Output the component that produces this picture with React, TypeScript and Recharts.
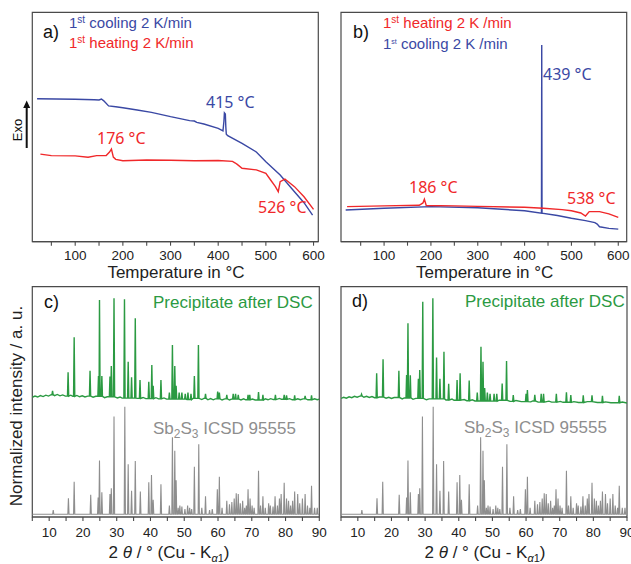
import React from 'react';
import { LineChart, Line, XAxis, YAxis, ReferenceArea } from 'recharts';

const BLUE = '#3a48a4';
const RED = '#f0282a';
const GREEN = '#2b9a42';
const GRAY = '#8e8e8e';
const FRAME = '#4a4a4a';
const SANS = '"Liberation Sans", Arial, sans-serif';
const NOTE = '"Noto Sans", "Open Sans", sans-serif';

// ---------- DSC (panels a, b): [temperature °C, signal a.u.] ----------
const aCooling: [number, number][] = [
  [20, 62.3], [60, 62.2], [100, 62.1], [140, 61.9], [150, 61.8], [155, 62.2], [160, 61.4], [170, 59.2],
  [185, 58.8], [200, 58.4], [230, 57.4], [260, 56.4], [300, 54.5], [340, 52.8], [350, 52.6], [355, 52.0],
  [370, 51.3], [400, 49.4], [410, 48.3], [412, 52.5], [413, 56.2], [415, 55.7], [416, 50.0], [417, 46.9],
  [420, 46.2], [450, 42.9], [480, 39.1], [500, 34.9], [530, 29.1], [560, 21.8], [580, 17.0], [598, 11.6],
];
const aHeating: [number, number][] = [
  [27, 38.2], [50, 37.5], [100, 37.4], [127, 36.8], [145, 37.5], [165, 37.6], [172, 39.1], [176, 40.4],
  [180, 36.9], [185, 35.9], [200, 35.3], [250, 35.6], [300, 35.5], [350, 35.3], [400, 35.4], [430, 35.0],
  [435, 34.4], [440, 33.7], [450, 32.0], [480, 31.3], [500, 29.8], [510, 26.9], [520, 24.0], [526, 21.8],
  [530, 26.2], [540, 27.3], [560, 24.0], [580, 19.6], [600, 14.1],
];
const bHeating: [number, number][] = [
  [21, 15.3], [100, 15.6], [175, 15.9], [183, 16.9], [186, 18.5], [190, 15.8], [250, 15.6], [300, 15.4],
  [400, 15.0], [440, 14.6], [480, 14.0], [500, 13.5], [520, 12.5], [530, 11.2], [538, 13.1], [560, 13.1],
  [580, 12.1], [600, 10.6],
];
const bCooling: [number, number][] = [
  [18, 13.8], [100, 14.6], [200, 15.3], [300, 14.8], [400, 13.5], [436, 12.4], [436.6, 85.7], [437.2, 12.4],
  [470, 11.4], [500, 10.2], [530, 9.2], [550, 8.3], [555, 7.7], [560, 6.5], [580, 5.8], [600, 5.5],
];

// ---------- XRD (panels c, d): [2θ, intensity a.u.] ----------
const refPeaks: [number, number][] = [
  [11.2, 3.0], [15.7, 8.1], [17.4, 15.3], [22.3, 9.6], [24.5, 8.5], [24.9, 24.5], [25.6, 10.7], [28.0, 10.0],
  [28.4, 12.5], [29.2, 43.6], [32.4, 47.9], [33.4, 22.9], [34.4, 11.4], [35.5, 24.3], [37.0, 11.1],
  [39.5, 15.1], [40.3, 18.2], [40.8, 7.5], [43.1, 14.2], [45.6, 5.0], [46.5, 34.6], [47.2, 28.8],
  [47.6, 16.0], [48.2, 4.0], [48.7, 5.0], [49.3, 4.5], [50.2, 3.5], [51.0, 5.0], [51.6, 4.0], [52.2, 3.5],
  [53.0, 21.8], [54.3, 31.6], [55.2, 4.0], [56.3, 9.0], [57.5, 3.0], [58.3, 3.5], [59.8, 12.0], [60.4, 17.5],
  [61.2, 4.0], [62.6, 7.0], [63.4, 5.5], [64.1, 6.5], [64.8, 8.0], [65.4, 10.3], [66.0, 10.0], [66.6, 6.0],
  [67.3, 7.0], [67.9, 4.0], [68.4, 5.0], [68.9, 12.0], [69.5, 8.0], [70.1, 5.0], [70.7, 4.0], [72.0, 20.1],
  [72.6, 5.0], [73.3, 9.0], [74.0, 4.0], [75.0, 6.0], [75.5, 5.0], [76.3, 4.5], [76.9, 9.0], [77.6, 5.0],
  [78.2, 8.0], [78.7, 10.0], [79.6, 14.9], [80.3, 8.0], [80.9, 7.0], [81.5, 5.0], [82.1, 7.0], [82.7, 11.1],
  [83.6, 10.0], [84.2, 6.0], [85.0, 8.0], [85.8, 10.0], [86.5, 5.0], [87.2, 4.0], [87.7, 13.6], [88.6, 4.0],
  [89.4, 4.0],
];
const refBaseline: [number, number][] = [[5, 1.2], [90, 1.2]];

const cPeaks: [number, number][] = [
  [11.0, 54.8], [15.6, 62.8], [17.4, 78.0], [22.1, 63.5], [24.6, 61.2], [24.9, 94.2], [25.6, 61.2],
  [28.0, 61.0], [28.4, 65.6], [29.2, 95.0], [32.3, 94.5], [33.4, 67.4], [34.4, 60.7], [35.5, 86.3],
  [36.9, 59.5], [39.5, 58.7], [40.4, 66.0], [40.8, 57.0], [43.1, 59.5], [45.6, 54.0], [46.5, 74.7],
  [47.2, 65.6], [47.6, 57.0], [48.5, 54.0], [49.3, 54.0], [50.3, 53.5], [51.1, 54.0], [52.0, 53.5],
  [53.0, 61.2], [54.2, 74.7], [56.3, 53.5], [59.9, 54.5], [60.4, 54.0], [62.6, 53.0], [64.5, 53.5],
  [65.2, 53.5], [66.0, 53.0], [68.9, 53.0], [69.4, 53.0], [72.0, 54.2], [73.3, 53.0], [77.0, 53.0],
  [79.6, 53.0], [80.3, 52.8], [82.7, 52.8], [85.8, 52.6], [87.7, 52.8],
];
const cBaseline: [number, number][] = [
  [5, 52.0], [5.8, 52.5], [6.6, 52.1], [7.4, 52.7], [8.2, 52.3], [9.0, 52.9], [9.8, 52.5], [10.6, 53.1],
  [11.6, 52.7], [12.4, 53.2], [13.2, 52.6], [14.0, 53.0], [14.8, 52.5], [16.4, 52.9], [17.0, 52.4],
  [18.2, 52.8], [19.0, 52.2], [19.8, 52.6], [20.6, 52.1], [21.4, 52.5], [23.0, 52.0], [23.8, 52.4],
  [26.4, 51.8], [27.2, 52.2], [30.2, 51.7], [31.0, 52.1], [31.6, 51.6], [36.2, 51.5], [37.8, 51.9],
  [38.6, 51.4], [41.6, 51.8], [42.4, 51.3], [44.0, 51.7], [44.8, 51.2], [50.8, 51.0], [52.6, 51.5],
  [55.2, 51.0], [55.8, 51.5], [57.0, 50.9], [57.8, 51.4], [58.6, 50.9], [59.2, 51.3], [61.2, 50.8],
  [62.0, 51.3], [63.4, 50.8], [64.0, 51.2], [66.8, 50.8], [67.6, 51.3], [68.2, 50.9], [70.2, 51.2],
  [71.0, 50.8], [74.0, 51.3], [74.8, 50.9], [75.6, 51.4], [76.4, 51.0], [78.2, 51.5], [78.8, 51.1],
  [81.2, 51.4], [82.0, 50.9], [83.6, 51.3], [84.4, 50.9], [85.2, 51.3], [86.6, 50.9], [88.6, 51.3],
  [89.4, 50.9], [90, 51.2],
];

const dPeaks: [number, number][] = [
  [11.1, 53.3], [15.6, 62.4], [17.5, 68.5], [22.2, 63.5], [24.5, 61.7], [24.9, 84.1], [25.6, 61.5],
  [28.0, 60.0], [28.4, 63.8], [29.3, 93.5], [32.3, 95.0], [33.4, 69.3], [34.4, 60.0], [35.6, 71.8],
  [37.0, 57.8], [39.5, 59.5], [40.4, 62.4], [43.1, 59.3], [45.5, 54.0], [46.6, 73.9], [47.2, 67.4],
  [47.7, 56.0], [48.5, 54.0], [49.3, 53.5], [50.5, 53.5], [51.3, 53.5], [52.9, 58.0], [54.2, 67.7],
  [56.2, 53.0], [60.0, 53.5], [60.4, 55.1], [62.6, 53.0], [64.5, 53.5], [65.2, 53.5], [69.0, 53.5],
  [72.0, 54.2], [73.3, 53.0], [77.0, 52.8], [79.6, 52.8], [82.7, 52.6], [87.7, 52.6],
];
const dBaseline: [number, number][] = [
  [5, 51.5], [5.8, 52.0], [6.6, 51.6], [7.4, 52.2], [8.2, 51.8], [9.0, 52.4], [9.8, 52.0], [10.6, 52.5],
  [11.8, 52.0], [12.6, 52.4], [13.4, 51.9], [14.2, 52.3], [15.0, 51.8], [16.4, 52.1], [18.4, 51.6],
  [19.2, 52.0], [20.0, 51.5], [20.8, 51.9], [23.2, 51.3], [23.8, 51.7], [26.4, 51.1], [27.2, 51.5],
  [30.4, 50.9], [31.2, 51.3], [36.2, 50.8], [38.0, 51.2], [38.6, 50.7], [41.6, 51.0], [42.4, 50.5],
  [44.0, 50.9], [44.8, 50.4], [50.0, 50.3], [52.0, 50.7], [55.2, 50.2], [57.0, 50.6], [58.6, 50.1],
  [61.4, 50.0], [62.0, 50.4], [63.6, 49.9], [66.8, 50.3], [67.6, 49.9], [70.2, 50.2], [71.0, 49.8],
  [74.2, 50.1], [75.6, 49.7], [78.2, 50.1], [81.2, 49.7], [83.6, 50.0], [85.2, 49.6], [88.6, 49.9],
  [90, 49.5],
];

const DSC_TICKS = [50, 100, 150, 200, 250, 300, 350, 400, 450, 500, 550, 600];
const XRD_TICKS = [5, 10, 15, 20, 25, 30, 35, 40, 45, 50, 55, 60, 65, 70, 75, 80, 85, 90];

type Pt = { x: number; y: number };
const toPts = (arr: [number, number][]): Pt[] => arr.map(([x, y]) => ({ x, y }));

// pattern = baseline points + narrow peaks whose feet sit on the baseline point at or before them
function pattern(base: [number, number][], peaks: [number, number][], hw: number): Pt[] {
  const pts: Pt[] = base.map(([x, y]) => ({ x, y }));
  const baseAt = (x: number) => {
    let v = base[0][1];
    for (const [bx, by] of base) if (bx <= x) v = by;
    return v;
  };
  for (const [x, h] of peaks) {
    const b = baseAt(x);
    pts.push({ x: x - hw, y: b }, { x, y: h }, { x: x + hw, y: b });
  }
  pts.sort((p, q) => p.x - q.x);
  return pts;
}

const makeTick = (every: number) => (props: any) => {
  const { x, y, payload } = props;
  const v = payload.value;
  const show = Math.abs(v % every) < 1e-6;
  return (
    <text x={x} y={y} dy="0.71em" textAnchor="middle" fontFamily={SANS} fontSize={13.5} fill="#222">
      {show ? String(v) : ''}
    </text>
  );
};

type Series = { data: Pt[]; color: string; width: number };

function Panel(p: {
  left: number; top: number; width: number; height: number;
  margin: { top: number; right: number; bottom: number; left: number };
  domain: [number, number]; ticks: number[]; every: number; axisHeight: number; tickMargin: number;
  series: Series[];
}) {
  return (
    <div style={{ position: 'absolute', left: p.left, top: p.top }}>
      <LineChart width={p.width} height={p.height} margin={p.margin}>
        <XAxis xAxisId="b" type="number" dataKey="x" domain={p.domain} ticks={p.ticks} interval={0}
          allowDataOverflow height={p.axisHeight} tickSize={4} tickMargin={p.tickMargin}
          axisLine={{ stroke: FRAME, strokeWidth: 1.2 }} tickLine={{ stroke: FRAME, strokeWidth: 1.1 }}
          tick={makeTick(p.every)} />
        <YAxis yAxisId="l" type="number" domain={[0, 100]} allowDataOverflow hide />
        <ReferenceArea xAxisId="b" yAxisId="l" x1={p.domain[0]} x2={p.domain[1]} y1={0} y2={100}
          fill="none" fillOpacity={0} stroke={FRAME} strokeWidth={1.2} strokeOpacity={1} ifOverflow="visible" />
        {p.series.map((s, i) => (
          <Line key={i} xAxisId="b" yAxisId="l" data={s.data} dataKey="y" type="linear" stroke={s.color}
            strokeWidth={s.width} dot={false} activeDot={false} isAnimationActive={false} />
        ))}
      </LineChart>
    </div>
  );
}

const Sup = ({ t, size = 10 }: { t: string; size?: number }) => (
  <tspan dy={-5} fontSize={size}>{t}</tspan>
);

export default function App() {
  const gray = pattern(refBaseline, refPeaks, 0.18);
  const greenC = pattern(cBaseline, cPeaks, 0.18);
  const greenD = pattern(dBaseline, dPeaks, 0.18);

  const xrdLabel = (cx: number) => (
    <text x={cx} y={558} textAnchor="middle" fontFamily={SANS} fontSize={17} fill="#222">
      <tspan>2 </tspan>
      <tspan fontStyle="italic">θ</tspan>
      <tspan> / ° (Cu - K</tspan>
      <tspan dy={4} fontSize={11} fontStyle="italic">α</tspan>
      <tspan fontSize={11}>1</tspan>
      <tspan dy={-4}>)</tspan>
    </text>
  );

  return (
    <div style={{ position: 'absolute', left: 0, top: 0, width: 631, height: 564, background: '#fff' }}>
      <Panel left={0} top={0} width={330} height={284}
        margin={{ top: 12.3, right: 11.7, bottom: 0, left: 32.3 }}
        domain={[10, 610]} ticks={DSC_TICKS} every={100} axisHeight={42.3} tickMargin={5}
        series={[
          { data: toPts(aCooling), color: BLUE, width: 1.4 },
          { data: toPts(aHeating), color: RED, width: 1.4 },
        ]} />
      <Panel left={330} top={0} width={301} height={284}
        margin={{ top: 12.3, right: 4.3, bottom: 0, left: 11 }}
        domain={[8, 618]} ticks={DSC_TICKS} every={100} axisHeight={42.3} tickMargin={5}
        series={[
          { data: toPts(bCooling), color: BLUE, width: 1.4 },
          { data: toPts(bHeating), color: RED, width: 1.4 },
        ]} />
      <Panel left={0} top={280} width={330} height={284}
        margin={{ top: 6.7, right: 10.7, bottom: 0, left: 32.3 }}
        domain={[5, 90]} ticks={XRD_TICKS} every={10} axisHeight={47} tickMargin={6.4}
        series={[
          { data: gray, color: GRAY, width: 1.1 },
          { data: greenC, color: GREEN, width: 1.4 },
        ]} />
      <Panel left={330} top={280} width={301} height={284}
        margin={{ top: 6.7, right: 4, bottom: 0, left: 11 }}
        domain={[5, 90]} ticks={XRD_TICKS} every={10} axisHeight={47} tickMargin={6.4}
        series={[
          { data: gray, color: GRAY, width: 1.1 },
          { data: greenD, color: GREEN, width: 1.4 },
        ]} />

      <svg width={631} height={564} style={{ position: 'absolute', left: 0, top: 0, pointerEvents: 'none' }}>
        {/* panel a */}
        <text x={43} y={38} fontFamily={SANS} fontSize={18} fill="#111">a)</text>
        <text x={69} y={28} fontFamily={SANS} fontSize={15} fill={BLUE}>
          <tspan>1</tspan><Sup t="st" /><tspan dy={5}> cooling 2 K/min</tspan>
        </text>
        <text x={69} y={48} fontFamily={SANS} fontSize={15} fill={RED}>
          <tspan>1</tspan><Sup t="st" /><tspan dy={5}> heating 2 K/min</tspan>
        </text>
        <text x={206} y={108} fontFamily={NOTE} fontSize={16} fill={BLUE}>415 °C</text>
        <text x={97} y={144} fontFamily={NOTE} fontSize={16} fill={RED}>176 °C</text>
        <text x={258} y={213} fontFamily={NOTE} fontSize={16} fill={RED}>526 °C</text>
        <line x1={26.7} y1={148} x2={26.7} y2={106} stroke="#111" strokeWidth={2} />
        <polygon points="26.7,100.5 23.2,108 30.2,108" fill="#111" />
        <text x={21.5} y={130} transform="rotate(-90 21.5 130)" textAnchor="middle" fontFamily={SANS} fontSize={13} fill="#111">Exo</text>
        <text x={176} y={277.7} textAnchor="middle" fontFamily={SANS} fontSize={17} fill="#222">Temperature in °C</text>

        {/* panel b */}
        <text x={353} y={38} fontFamily={SANS} fontSize={18} fill="#111">b)</text>
        <text x={383} y={28} fontFamily={SANS} fontSize={15} fill={RED}>
          <tspan>1</tspan><Sup t="st" /><tspan dy={5}> heating 2 K /min</tspan>
        </text>
        <text x={383} y={49} fontFamily={SANS} fontSize={15} fill={BLUE}>
          <tspan>1</tspan><Sup t="st" size={7} /><tspan dy={5}> cooling 2 K /min</tspan>
        </text>
        <text x={543} y={80} fontFamily={NOTE} fontSize={16} fill={BLUE}>439 °C</text>
        <text x={409} y={193} fontFamily={NOTE} fontSize={16} fill={RED}>186 °C</text>
        <text x={567} y={204} fontFamily={NOTE} fontSize={16} fill={RED}>538 °C</text>
        <text x={484.7} y={277.7} textAnchor="middle" fontFamily={SANS} fontSize={17} fill="#222">Temperature in °C</text>

        {/* panel c */}
        <text x={44} y={308} fontFamily={SANS} fontSize={18} fill="#111">c)</text>
        <text x={153} y={308} fontFamily={SANS} fontSize={17} fill={GREEN}>Precipitate after DSC</text>
        <text x={153} y={434} fontFamily={SANS} fontSize={17} fill={GRAY}>
          <tspan>Sb</tspan><tspan dy={4} fontSize={12}>2</tspan><tspan dy={-4}>S</tspan>
          <tspan dy={4} fontSize={12}>3</tspan><tspan dy={-4}> ICSD 95555</tspan>
        </text>
        <text x={21.5} y={406} transform="rotate(-90 21.5 406)" textAnchor="middle" fontFamily={SANS} fontSize={17} fill="#222">
          Normalized intensity / a. u.
        </text>
        {xrdLabel(169)}

        {/* panel d */}
        <text x={352} y={307} fontFamily={SANS} fontSize={18} fill="#111">d)</text>
        <text x={465} y={307} fontFamily={SANS} fontSize={17} fill={GREEN}>Precipitate after DSC</text>
        <text x={464} y={433} fontFamily={SANS} fontSize={17} fill={GRAY}>
          <tspan>Sb</tspan><tspan dy={4} fontSize={12}>2</tspan><tspan dy={-4}>S</tspan>
          <tspan dy={4} fontSize={12}>3</tspan><tspan dy={-4}> ICSD 95555</tspan>
        </text>
        {xrdLabel(485)}
      </svg>
    </div>
  );
}
